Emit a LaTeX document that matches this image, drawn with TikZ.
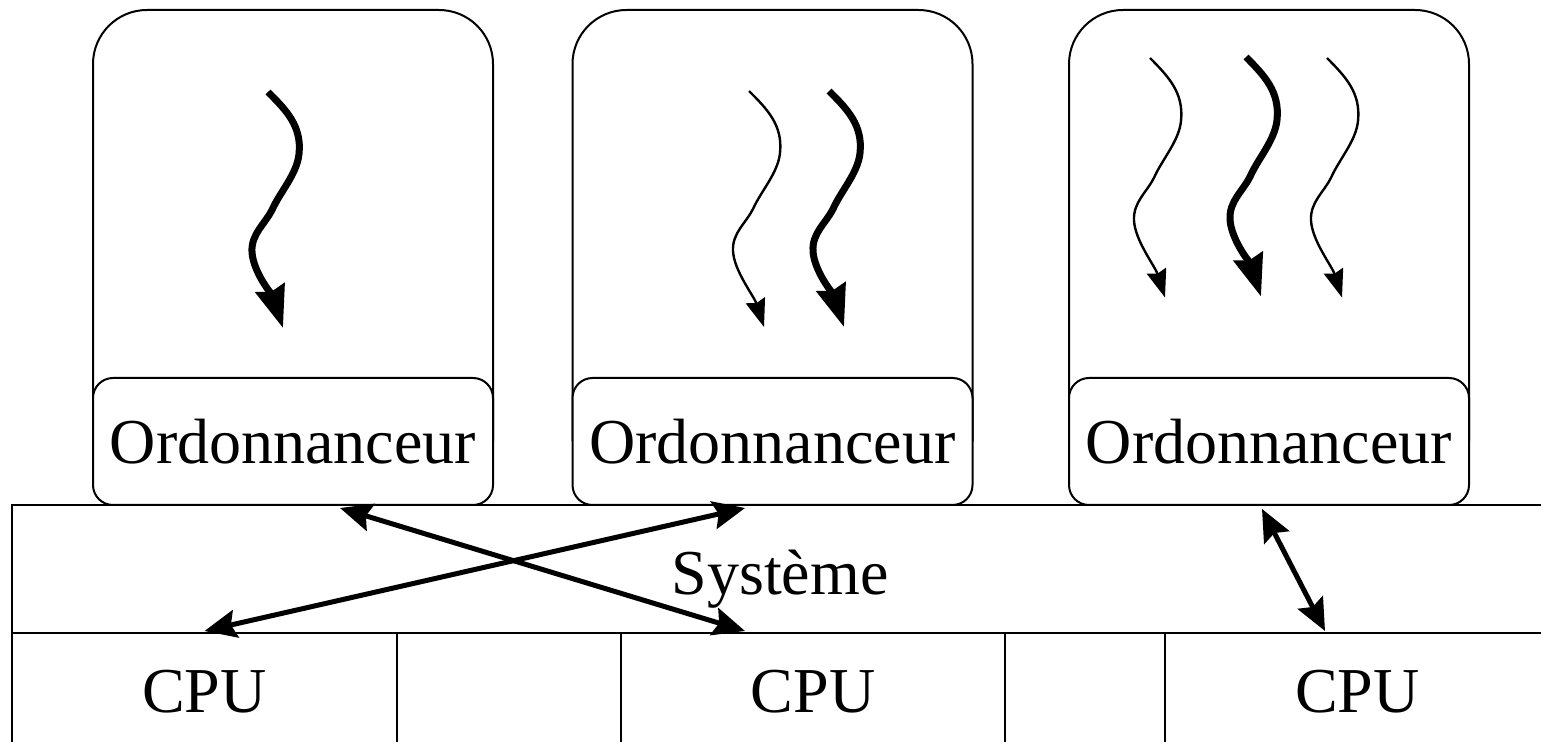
\documentclass[tikz,border=0pt]{standalone}
\usepackage{fontspec}
\setmainfont{Liberation Serif}
\usetikzlibrary{arrows.meta,calc}
\begin{document}
\begin{tikzpicture}[x=0.5pt,y=-0.5pt,
  bigfont/.style={font=\fontsize{32}{38}\selectfont},
  frame/.style={line width=1pt},
  procbox/.style={frame,rounded corners=27pt},
  sched/.style={draw,frame,fill=white,rounded corners=10pt,minimum width=200pt,
    minimum height=63.5pt,inner sep=0pt,bigfont},
  sysbox/.style={draw,frame,minimum width=769pt,minimum height=64pt,inner sep=0pt},
  cell/.style={draw,frame,minimum height=58.5pt,inner sep=0pt,bigfont},
  link/.style={line width=2.5pt,
    {Stealth[length=16pt,width=14pt,inset=2.5pt]}-{Stealth[length=16pt,width=14pt,inset=2.5pt]}},
  thickthread/.style={line width=3.5pt,-{Stealth[length=21pt,width=15pt,inset=2pt]}},
  thinthread/.style={line width=1.2pt,-{Stealth[length=14pt,width=10pt,inset=1.5pt]}},
]
\useasboundingbox (0,0) rectangle (1541,742);

% process frames
\foreach \x in {293,772.5,1269}
  \draw[procbox] (\x-200,441.5) -- (\x-200,10) -- (\x+200,10) -- (\x+200,441.5);

% schedulers
\node[sched] (s1) at (293,441.5) {Ordonnanceur};
\node[sched] (s2) at (772.5,441.5) {Ordonnanceur};
\node[sched] (s3) at (1269,441.5) {Ordonnanceur};

% system layer
\node[sysbox] (sys) at (781,569) {};
\node[anchor=base,bigfont] (systxt) at (780,594) {Système};

% processors
\node[cell,minimum width=192.5pt] (cpu1) at (204.5,691.5) {CPU};
\node[cell,minimum width=112pt]   (gap1) at (509,691.5) {};
\node[cell,minimum width=192pt]   (cpu2) at (813,691.5) {CPU};
\node[cell,minimum width=80pt]    (gap2) at (1085,691.5) {};
\node[cell,minimum width=192.5pt] (cpu3) at (1357.5,691.5) {CPU};

% threads
\newcommand\threadpath{(0,0) .. controls (18,18) and (34,34) .. (31,62)
  .. controls (29,82) and (12,100) .. (4,118)
  .. controls (-3,132) and (-17,142) .. (-16,160)
  .. controls (-15,180) and (5,205) .. (15,236)}
\begin{scope}[shift={(268,92)}]\draw[thickthread] \threadpath;\end{scope}
\begin{scope}[shift={(749,91)}]\draw[thinthread] \threadpath;\end{scope}
\begin{scope}[shift={(829,91)}]\draw[thickthread] \threadpath;\end{scope}
\begin{scope}[shift={(1150,58)},yscale=1.015]\draw[thinthread] \threadpath;\end{scope}
\begin{scope}[shift={(1246,57)},yscale=1.015]\draw[thickthread] \threadpath;\end{scope}
\begin{scope}[shift={(1327,58)},yscale=1.015]\draw[thinthread] \threadpath;\end{scope}

% scheduler <-> processor links
\draw[link] ($(s1.south)+(47,2)$) -- ($(cpu2.north)+(-68,-1)$);
\draw[link] ($(cpu1.north)+(0,-1)$) -- ($(s2.south)+(-27.5,2)$);
\draw[link] ($(s3.south)+(-7,3)$) -- ($(cpu3.north)+(-32.5,-1)$);
\end{tikzpicture}
\end{document}
